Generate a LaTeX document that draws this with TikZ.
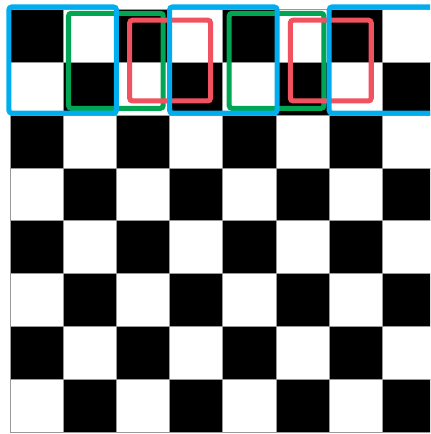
\documentclass[tikz,border=0pt]{standalone}
\usetikzlibrary{calc}
\definecolor{boxblue}{RGB}{0,174,239}
\definecolor{boxgreen}{RGB}{0,166,81}
\definecolor{boxred}{RGB}{240,82,95}
\tikzset{
  sq/.style={draw=black!40, line width=0.5pt},
  win/.style={line width=3.6pt, rounded corners=2pt},
  bluebox/.style={win, draw=boxblue},
  greenbox/.style={win, draw=boxgreen},
  redbox/.style={win, draw=boxred},
}
\begin{document}
\begin{tikzpicture}[x=1.33cm,y=-1.32cm]
\useasboundingbox (-0.188,-0.182) rectangle (7.899,8.038);
\clip (-0.188,-0.182) rectangle (7.899,8.038);
% 8x8 board, top-left black
\foreach \i in {0,...,7}\foreach \j in {0,...,7}{
  \pgfmathtruncatemacro\cellpar{mod(\i+\j,2)}
  \ifnum\cellpar=0
    \filldraw[sq, fill=black] (\i,\j) rectangle ++(1,1);
  \else
    \filldraw[sq, fill=white] (\i,\j) rectangle ++(1,1);
  \fi
}
% sliding windows, stride 3
\foreach \x in {1.1,4.12}{
  \draw[greenbox] (\x,0.07) rectangle ++(1.78,1.8);
}
\foreach \x in {2.25,5.27}{
  \draw[redbox] (\x,0.2) rectangle ++(1.52,1.53);
}
\foreach \x in {-0.02,3,6}{
  \draw[bluebox] (\x,-0.05) rectangle ++(2.02,2.01);
}
\end{tikzpicture}
\end{document}
